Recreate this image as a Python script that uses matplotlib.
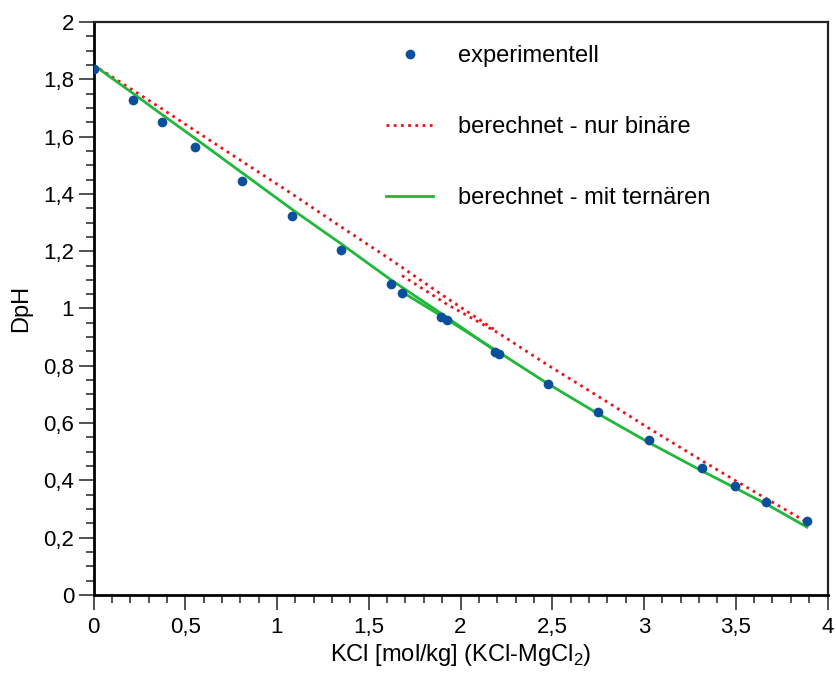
import numpy as np
import matplotlib
matplotlib.use('Agg')
import matplotlib.pyplot as plt
from matplotlib.ticker import MultipleLocator, FuncFormatter

plt.rcParams['font.family'] = ['Liberation Sans', 'DejaVu Sans']
plt.rcParams['mathtext.fontset'] = 'custom'
plt.rcParams['mathtext.rm'] = 'Liberation Sans'

# experimental points
x_exp = [0.0, 0.215, 0.373, 0.553, 0.809, 1.082, 1.349, 1.621, 1.681, 1.894,
         1.926, 2.188, 2.210, 2.477, 2.749, 3.027, 3.316, 3.496, 3.665, 3.888]
y_exp = [1.836, 1.728, 1.651, 1.564, 1.445, 1.323, 1.204, 1.086, 1.054, 0.970,
         0.960, 0.848, 0.841, 0.736, 0.639, 0.541, 0.443, 0.380, 0.325, 0.258]

# calculated curves, two measurement series
x_a = [0.0, 0.215, 0.373, 0.553, 0.809, 1.082, 1.349, 1.621, 1.894, 2.188]
x_b = [1.681, 1.926, 2.210, 2.477, 2.749, 3.027, 3.316, 3.496, 3.665, 3.888]

red_a = [1.850, 1.762, 1.697, 1.621, 1.514, 1.400, 1.285, 1.170, 1.050, 0.925]
red_b = [1.115, 1.015, 0.913, 0.802, 0.694, 0.582, 0.469, 0.400, 0.337, 0.254]

green_a = [1.850, 1.751, 1.677, 1.594, 1.474, 1.346, 1.226, 1.100, 0.983, 0.853]
green_b = [1.058, 0.962, 0.847, 0.737, 0.633, 0.532, 0.433, 0.374, 0.318, 0.237]

c_red = '#e8141c'
c_green = '#1fb83a'
c_blue = '#0b4f9c'

fig = plt.figure(figsize=(8.36, 6.78), dpi=100)
ax = fig.add_axes([93.5/836, 1-595/678, (827.5-93.5)/836, (595-22)/678])

ax.plot(x_a, red_a, color=c_red, linestyle=(0, (1, 1.6)), linewidth=2, label='berechnet - nur binäre')
ax.plot(x_b, red_b, color=c_red, linestyle=(0, (1, 1.6)), linewidth=2)
ax.plot(x_a, green_a, color=c_green, linewidth=2, label='berechnet - mit ternären')
ax.plot(x_b, green_b, color=c_green, linewidth=2)
ax.plot(x_exp, y_exp, 'o', color=c_blue, markersize=7, markeredgewidth=0, label='experimentell', zorder=5)

ax.set_xlim(0, 4)
ax.set_ylim(0, 2)
ax.xaxis.set_major_locator(MultipleLocator(0.5))
ax.xaxis.set_minor_locator(MultipleLocator(0.1))
ax.yaxis.set_major_locator(MultipleLocator(0.2))
ax.yaxis.set_minor_locator(MultipleLocator(0.05))
fmt = FuncFormatter(lambda v, p: ('%g' % round(v, 2)).replace('.', ','))
ax.xaxis.set_major_formatter(fmt)
ax.yaxis.set_major_formatter(fmt)
ax.tick_params(which='major', length=11, width=1.2, labelsize=16, direction='out', color='#333333')
ax.tick_params(which='minor', length=6, width=1.2, direction='out', color='#333333')
ax.tick_params(axis='x', pad=5)
ax.tick_params(axis='y', pad=3)

for s in ['left', 'bottom']:
    ax.spines[s].set_linewidth(2)
for s in ['top', 'right']:
    ax.spines[s].set_linewidth(1.6)
    ax.spines[s].set_color('#222222')

ax.set_xlabel('KCl [mol/kg] (KCl-MgCl$_2$)', fontsize=17, labelpad=3)
ax.set_ylabel('DpH', fontsize=17, labelpad=8)

h, l = ax.get_legend_handles_labels()
order = [2, 0, 1]
ax.legend([h[i] for i in order], [l[i] for i in order], loc='upper left',
          bbox_to_anchor=(0.3985, 0.960), frameon=False, fontsize=17,
          borderpad=0, borderaxespad=0,
          handlelength=2.0, handletextpad=1.05, labelspacing=2.08)

fig.savefig('out.png', dpi=100)
